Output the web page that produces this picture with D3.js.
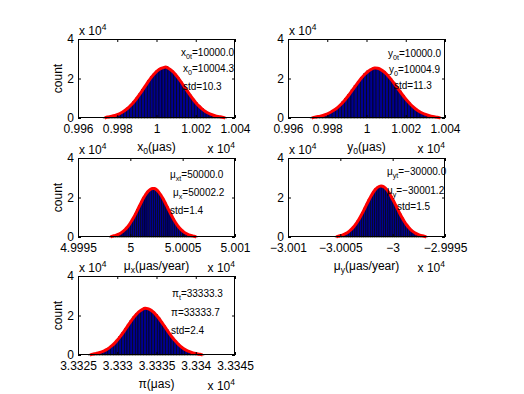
<!DOCTYPE html>
<html>
<head>
<script src="https://cdn.jsdelivr.net/npm/d3@7/dist/d3.min.js"></script>
<style>
body { margin: 0; background: #fff; }
text { font-family: "Liberation Sans", Arial, Helvetica, sans-serif; fill: #000; }
</style>
</head>
<body>
<svg width="524" height="394"></svg>
<script>
// histogram counts (one bar per bin)
var countsX0 = [310, 520, 720, 1100, 1510, 2100, 2890, 3890, 5040, 6500, 8190, 10090, 12130, 14390, 16590, 18820, 20860, 22600, 24060, 25040, 25550, 26000, 24880, 23760, 22220, 20350, 18250, 16050, 13820, 11650, 9570, 7730, 6090, 4710, 3560, 2640, 1920, 1360, 950, 640, 440, 280];
var countsY0 = [300, 510, 710, 1090, 1490, 2070, 2860, 3850, 4980, 6430, 8100, 9970, 12000, 14220, 16400, 18600, 20620, 22340, 23780, 24740, 25500, 25220, 24590, 23480, 21960, 20110, 18040, 15860, 13660, 11510, 9460, 7640, 6020, 4660, 3520, 2610, 1900, 1340, 940, 630, 430, 280];
var countsMux = [300, 490, 690, 1060, 1460, 2030, 2790, 3750, 4870, 6270, 7900, 9730, 11710, 13880, 16010, 18150, 20130, 21810, 23220, 24160, 24650, 24630, 24010, 22920, 21440, 19640, 17610, 15490, 13340, 11240, 9240, 7460, 5880, 4540, 3430, 2540, 1850, 1310, 910, 620, 420, 270];
var countsMuy = [310, 520, 730, 1110, 1530, 2120, 2930, 3940, 5100, 6580, 8290, 10200, 12280, 14560, 16780, 19040, 21110, 22870, 24350, 25330, 25850, 25820, 25170, 24040, 22480, 20590, 18470, 16240, 13990, 11780, 9690, 7820, 6160, 4770, 3600, 2670, 1940, 1370, 960, 650, 440, 280];
var countsPi = [280, 470, 660, 1010, 1390, 1940, 2670, 3590, 4650, 5990, 7550, 9300, 11190, 13260, 15290, 17350, 19230, 20840, 22180, 23080, 23850, 23530, 22940, 21900, 20480, 18760, 16830, 14800, 12740, 10740, 8830, 7130, 5620, 4340, 3280, 2430, 1770, 1250, 870, 590, 400, 260];

// bin start and width of each histogram
var binStarts = [9972.8, 9971.3, 49998.0, -30005.5, 33326.35];
var binWidths = [1.5, 1.6, 0.2, 0.21, 0.35];

// x axis ranges and ticks
var xDomains = [[9960, 10040], [9960, 10040], [49995, 50010], [-30010, -29995], [33325, 33345]];
var xTicksX0 = [9960, 9980, 10000, 10020, 10040];
var xTickLabelsX0 = ["0.996", "0.998", "1", "1.002", "1.004"];
var xTicksMux = [49995, 50000, 50005, 50010];
var xTickLabelsMux = ["4.9995", "5", "5.0005", "5.001"];
var xTicksMuy = [-30010, -30005, -30000, -29995];
var xTickLabelsMuy = ["\u22123.001", "\u22123.0005", "\u22123", "\u22122.9995"];
var xTicksPi = [33325, 33330, 33335, 33340, 33345];
var xTickLabelsPi = ["3.3325", "3.333", "3.3335", "3.334", "3.3345"];

var yDomain = [0, 40000];
var yTicks = [0, 20000, 40000];
var yTickLabels = ["0", "2", "4"];

var xLabels = ["x_{0}(\u03bcas)", "y_{0}(\u03bcas)", "\u03bc_{x}(\u03bcas/year)", "\u03bc_{y}(\u03bcas/year)", "\u03c0(\u03bcas)"];
var notes = [
  ["x_{0t}=10000.0", "x_{0}=10004.3", "std=10.3"],
  ["y_{0t}=10000.0", "y_{0}=10004.9", "std=11.3"],
  ["\u03bc_{xt}=50000.0", "\u03bc_{x}=50002.2", "std=1.4"],
  ["\u03bc_{yt}=\u221230000.0", "\u03bc_{y}=\u221230001.2", "std=1.5"],
  ["\u03c0_{t}=33333.3", "\u03c0=33333.7", "std=2.4"]
];

var allCounts = [countsX0, countsY0, countsMux, countsMuy, countsPi];
var allTicks = [xTicksX0, xTicksX0, xTicksMux, xTicksMuy, xTicksPi];
var allTickLabels = [xTickLabelsX0, xTickLabelsX0, xTickLabelsMux, xTickLabelsMuy, xTickLabelsPi];

// layout (pixels)
var W = 157, H = 79;
var cells = [
  {x: 78, y: 39, ylab: true, notes: [[103, 13], [105, 29.5], [105, 47]]},
  {x: 288, y: 39, ylab: false, notes: [[100, 14], [101, 30], [106, 46.5]]},
  {x: 78, y: 158, ylab: true, notes: [[92, 16], [95, 34.5], [92, 52]]},
  {x: 288, y: 158, ylab: false, notes: [[99, 13.5], [99, 32.5], [109, 48]]},
  {x: 78, y: 276, ylab: true, notes: [[94, 17.5], [93, 36], [93, 54]]}
];

var svg = d3.select("svg");

function rich(sel, str, fs) {
  var parts = str.split(/(_\{[^}]*\})/).filter(function (p) { return p.length; });
  var shifted = false;
  var sh = fs * 0.32;
  parts.forEach(function (p) {
    if (p.indexOf("_{") === 0) {
      sel.append("tspan").attr("dy", sh).attr("font-size", fs * 0.72).text(p.slice(2, -1));
      shifted = true;
    } else {
      var t = sel.append("tspan").text(p);
      if (shifted) t.attr("dy", -sh);
      shifted = false;
    }
  });
}

function expLabel(g, x, y, anchor) {
  var t = g.append("text").attr("x", x).attr("y", y).attr("font-size", 12).attr("text-anchor", anchor);
  t.append("tspan").text("x 10");
  t.append("tspan").attr("dy", -5).attr("font-size", 8.5).text("4");
}

cells.forEach(function (c, k) {
  var g = svg.append("g").attr("transform", "translate(" + c.x + "," + c.y + ")");
  var x = d3.scaleLinear().domain(xDomains[k]).range([0, W]);
  var y = d3.scaleLinear().domain(yDomain).range([H, 0]);
  var counts = allCounts[k], b0 = binStarts[k], bw = binWidths[k];

  g.append("rect").attr("width", W).attr("height", H).attr("fill", "#fff");

  g.selectAll("rect.bar").data(counts).enter().append("rect")
    .attr("class", "bar")
    .attr("x", function (d, i) { return x(b0 + i * bw); })
    .attr("width", x(xDomains[k][0] + bw) - x(xDomains[k][0]))
    .attr("y", function (d) { return y(d); })
    .attr("height", function (d) { return H - y(d); })
    .attr("fill", "#00008f")
    .attr("stroke", "#000")
    .attr("stroke-width", 0.6);

  var line = d3.line()
    .x(function (d, i) { return x(b0 + (i + 0.5) * bw); })
    .y(function (d) { return y(d); })
    .curve(d3.curveBasis);
  g.append("path").datum([0].concat(counts.slice(1, -1)).concat([0]))
    .attr("d", line)
    .attr("fill", "none").attr("stroke", "#ff0000").attr("stroke-width", 3)
    .attr("stroke-linejoin", "round");

  // axes
  var fmtX = function (d, i) { return allTickLabels[k][i]; };
  var fmtY = function (d, i) { return yTickLabels[i]; };
  g.append("g").attr("transform", "translate(0," + H + ")")
    .call(d3.axisBottom(x).tickValues(allTicks[k]).tickFormat(fmtX).tickSizeInner(-3).tickSizeOuter(0).tickPadding(6));
  g.append("g").call(d3.axisTop(x).tickValues(allTicks[k]).tickFormat("").tickSizeInner(-3).tickSizeOuter(0));
  g.append("g")
    .call(d3.axisLeft(y).tickValues(yTicks).tickFormat(fmtY).tickSizeInner(-3).tickSizeOuter(0).tickPadding(4));
  g.append("g").attr("transform", "translate(" + W + ",0)")
    .call(d3.axisRight(y).tickValues(yTicks).tickFormat("").tickSizeInner(-3).tickSizeOuter(0));
  g.selectAll(".domain").remove();
  g.selectAll(".tick text").attr("font-size", 12).attr("font-family", null);
  g.selectAll(".tick line").attr("stroke", "#000");

  g.append("rect").attr("x", 0.5).attr("y", 0.5).attr("width", W - 1).attr("height", H - 1)
    .attr("fill", "none").attr("stroke", "#000").attr("stroke-width", 1);

  // exponent labels
  expLabel(g, 1, -4, "start");
  expLabel(g, W, H + 35, "end");

  // x label
  var xl = g.append("text").attr("x", W / 2).attr("y", H + 32.5).attr("text-anchor", "middle").attr("font-size", 12);
  rich(xl, xLabels[k], 12);

  if (c.ylab) {
    g.append("text").attr("transform", "translate(-16," + (H / 2) + ") rotate(-90)")
      .attr("text-anchor", "middle").attr("font-size", 12).text("count");
  }

  notes[k].forEach(function (s, j) {
    var t = g.append("text").attr("x", c.notes[j][0]).attr("y", c.notes[j][1] + 3.5).attr("font-size", 10);
    rich(t, s, 10);
  });
});
</script>
</body>
</html>
